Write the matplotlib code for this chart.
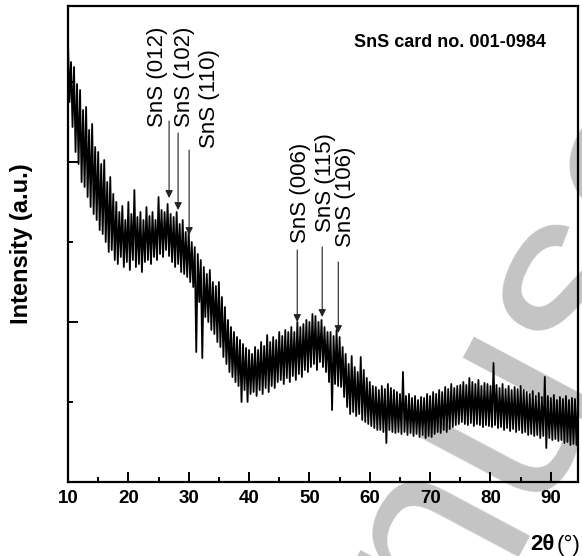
import numpy as np
import matplotlib
matplotlib.use("Agg")
import matplotlib.pyplot as plt

# XRD pattern: upper points (at 10.0, 10.5, ...) and
# lower points (at 10.25, 10.75, ...), intensity in arbitrary units
hi = [440, 420, 415, 398, 392, 372, 375, 352, 358, 335,
      330, 318, 322, 300, 305, 288, 280, 270, 276, 262,
      280, 268, 292, 265, 270, 262, 275, 266, 270, 262,
      285, 272, 270, 278, 268, 265, 270, 258, 262, 250,
      252, 240, 235, 228, 222, 215, 208, 212, 200, 196,
      200, 185, 175, 162, 155, 150, 145, 142, 138, 134,
      132, 128, 135, 132, 140, 136, 147, 140, 145, 142,
      150, 146, 152, 150, 155, 150, 160, 155, 158, 162,
      160, 168, 166, 160, 162, 155, 150, 150, 146, 152,
      145, 135, 128, 118, 126, 115, 110, 125, 112, 104,
      100, 96, 95, 92, 96, 93, 98, 94, 92, 90,
      88, 110, 86, 88, 84, 86, 82, 85, 84, 88,
      86, 90, 88, 92, 90, 95, 93, 98, 94, 96,
      97, 100, 97, 104, 100, 98, 102, 96, 99, 98,
      96, 119, 97, 94, 98, 93, 96, 92, 95, 93,
      96, 92, 90, 88, 91, 86, 89, 85, 105, 86,
      84, 87, 82, 85, 83, 86, 82, 84, 83, 82]
lo = [380, 355, 330, 318, 300, 295, 285, 275, 268, 262,
      252, 248, 240, 230, 232, 222, 218, 225, 215, 220,
      212, 222, 215, 218, 210, 220, 222, 218, 225, 222,
      228, 225, 232, 226, 220, 215, 218, 210, 208, 205,
      200, 195, 130, 180, 124, 165, 160, 152, 148, 140,
      135, 125, 118, 110, 105, 100, 96, 80, 92, 80,
      88, 90, 86, 92, 88, 94, 90, 96, 94, 100,
      102, 98, 104, 100, 106, 102, 108, 105, 112, 110,
      115, 118, 112, 120, 115, 110, 100, 72, 98, 96,
      95, 85, 75, 68, 70, 66, 68, 62, 60, 58,
      56, 54, 52, 52, 50, 39, 52, 50, 49, 50,
      48, 50, 47, 49, 46, 48, 45, 47, 44, 46,
      45, 48, 50, 49, 52, 50, 53, 55, 57, 58,
      60, 58, 57, 59, 56, 58, 57, 55, 57, 56,
      55, 57, 54, 55, 52, 54, 51, 53, 50, 52,
      49, 50, 47, 48, 46, 47, 44, 46, 34, 44,
      42, 43, 41, 42, 39, 40, 37, 38, 37, 36]

peak_labels = ["SnS (012)", "SnS (102)", "SnS (110)",
               "SnS (006)", "SnS (115)", "SnS (106)"]
peak_pos = [26.75, 28.24, 30.07, 47.98, 52.12, 54.78]

two_theta = np.empty(len(hi) + len(lo))
two_theta[0::2] = 10 + 0.5 * np.arange(len(hi))
two_theta[1::2] = 10.25 + 0.5 * np.arange(len(lo))
intensity = np.empty(len(hi) + len(lo))
intensity[0::2] = hi
intensity[1::2] = lo

plt.rcParams['font.family'] = ['Liberation Sans', 'DejaVu Sans']

fig = plt.figure(figsize=(5.82, 5.56), dpi=100)
ax = fig.add_axes([68/582, 74/556, 510/582, 476/556])
ax.patch.set_alpha(0)

# journal watermark behind everything
fig.text(0.481, -0.735, "Manuscript", fontsize=195, color='#c4c4c4',
         rotation=62, rotation_mode='anchor', ha='left', va='baseline',
         zorder=-5)

ax.plot(two_theta, intensity, color='k', lw=1.3, zorder=3)

ax.set_xlim(10, 94.5)
ax.set_ylim(0, 476)
ax.set_xticks(range(10, 100, 10))
ax.set_xticks(range(15, 95, 10), minor=True)
ax.set_yticks([160, 320])
ax.set_yticks([80, 240, 400], minor=True)
ax.set_yticklabels([])
ax.tick_params(which='both', direction='in', width=1.4)
ax.tick_params(which='major', length=7)
ax.tick_params(which='minor', length=3.5)
ax.tick_params(axis='x', labelsize=13.5, pad=6)
for lab in ax.get_xticklabels():
    lab.set_fontweight('bold')
for s in ax.spines.values():
    s.set_linewidth(1.6)

ax.set_ylabel("Intensity (a.u.)", fontsize=17, fontweight='bold', labelpad=22)
fig.text(530/582, 1 - 545/556, "2\u03b8", fontsize=16, fontweight='bold',
         ha='left', va='center')
fig.text(557/582, 1 - 545/556, "(\u00b0)", fontsize=16, ha='left', va='center')

# peak labels and arrows
label_x = [24.76, 29.24, 33.38, 48.47, 52.62, 55.94]
label_y = [355, 355, 334, 239, 250, 235]
arrow_top = [361, 349, 332, 232, 235, 220]
arrow_tip = [284, 272, 247, 160, 165, 149]
for lab, p, lx, ly, at, tip in zip(peak_labels, peak_pos, label_x, label_y,
                                    arrow_top, arrow_tip):
    ax.text(lx, ly, lab, rotation=90, fontsize=16, ha='center', va='bottom')
    ax.annotate("", xy=(p, tip), xytext=(p, at),
                arrowprops=dict(arrowstyle='-|>', color='#222222', lw=0.8,
                                mutation_scale=11, shrinkA=0, shrinkB=0))

ax.text(0.749, 0.924, "SnS card no. 001-0984", transform=ax.transAxes,
        fontsize=13, fontweight='bold', ha='center', va='center')

fig.savefig("out.png", dpi=100)
